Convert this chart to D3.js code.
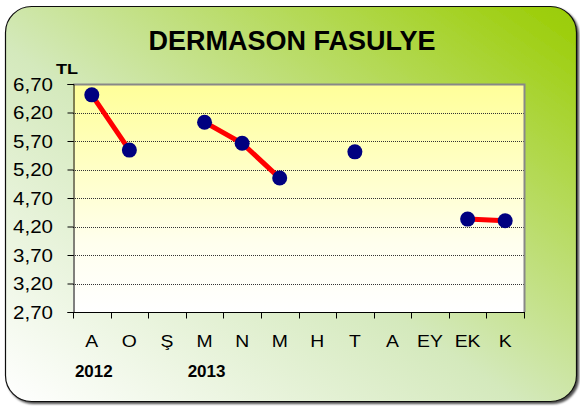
<!DOCTYPE html>
<html lang="tr">
<head>
<meta charset="utf-8">
<script src="https://d3js.org/d3.v7.min.js"></script>
<style>
  body { margin: 0; background: #fff; }
  text { font-family: Arial, "Liberation Sans", sans-serif; }
</style>
</head>
<body>
<script>
// data
var months = ["A", "O", "Ş", "M", "N", "M", "H", "T", "A", "EY", "EK", "K"];
var prices = [6.51, 5.54, null, 6.03, 5.66, 5.05, null, 5.51, null, null, 4.33, 4.30];
var yTicks = [2.70, 3.20, 3.70, 4.20, 4.70, 5.20, 5.70, 6.20, 6.70];
var years = [{ label: "2012", idx: 0 }, { label: "2013", idx: 3 }];

var w = 580, h = 408;
var pLeft = 73, pRight = 524, pTop = 84, pBottom = 312;
var stretch = 1.14; // labels in the original are a bit wide

var svg = d3.select("body").append("svg")
  .attr("width", w)
  .attr("height", h);

var defs = svg.append("defs");

// outer background gradient
var bg = defs.append("linearGradient").attr("id", "bg")
  .attr("x1", "0%").attr("y1", "100%").attr("x2", "100%").attr("y2", "0%");
bg.append("stop").attr("offset", "0%").attr("stop-color", "#ffffff");
bg.append("stop").attr("offset", "45%").attr("stop-color", "#d4e9bc");
bg.append("stop").attr("offset", "100%").attr("stop-color", "#99cc00");

// plot area gradient
var pg = defs.append("linearGradient").attr("id", "pg")
  .attr("x1", "0%").attr("y1", "0%").attr("x2", "0%").attr("y2", "100%");
pg.append("stop").attr("offset", "0%").attr("stop-color", "#ffff99");
pg.append("stop").attr("offset", "70%").attr("stop-color", "#ffffee");
pg.append("stop").attr("offset", "100%").attr("stop-color", "#ffffff");

var shadow = defs.append("filter").attr("id", "shadow")
  .attr("x", "-5%").attr("y", "-5%").attr("width", "110%").attr("height", "110%");
shadow.append("feDropShadow").attr("dx", 2).attr("dy", 2)
  .attr("stdDeviation", 1).attr("flood-color", "#000").attr("flood-opacity", 0.7);

// outer frame
svg.append("rect")
  .attr("x", 5.5).attr("y", 6.5)
  .attr("width", 571).attr("height", 395)
  .attr("rx", 26).attr("ry", 26)
  .attr("fill", "url(#bg)")
  .attr("stroke", "#111")
  .attr("stroke-width", 1.2)
  .attr("filter", "url(#shadow)");

// scales
var x = d3.scaleBand().domain(d3.range(months.length)).range([pLeft, pRight]);
var y = d3.scaleLinear().domain([2.70, 6.70]).range([pBottom, pTop]);

// plot area
svg.append("rect")
  .attr("x", pLeft).attr("y", pTop)
  .attr("width", pRight - pLeft).attr("height", pBottom - pTop)
  .attr("fill", "url(#pg)");

// gridlines
svg.append("g")
  .selectAll("line")
  .data(yTicks.slice(1, -1))
  .enter().append("line")
  .attr("x1", pLeft).attr("x2", pRight)
  .attr("y1", function(d) { return Math.round(y(d)) + 0.5; })
  .attr("y2", function(d) { return Math.round(y(d)) + 0.5; })
  .attr("stroke", "#333")
  .attr("stroke-width", 1)
  .attr("stroke-dasharray", "1,1");

// plot border (top/right grey)
svg.append("path")
  .attr("d", "M" + pLeft + "," + (pTop + 0.5) + "H" + (pRight + 0.5) + "V" + pBottom)
  .attr("fill", "none")
  .attr("stroke", "#888")
  .attr("stroke-width", 2);

// y axis
var yAxis = d3.axisLeft(y)
  .tickValues(yTicks)
  .tickSize(6)
  .tickPadding(14)
  .tickFormat(function(d) { return d3.format(".2f")(d).replace(".", ","); });

var gy = svg.append("g")
  .attr("transform", "translate(" + (pLeft + 0.5) + ",0)")
  .call(yAxis);
gy.select(".domain").attr("stroke", "#000").attr("stroke-width", 1);
gy.selectAll(".tick line").attr("stroke", "#000");
gy.selectAll(".tick text").attr("font-size", 18).attr("fill", "#000")
  .attr("font-family", "Arial, 'Liberation Sans', sans-serif")
  .attr("x", -20.5 / stretch)
  .attr("dy", "0.36em")
  .attr("transform", "scale(" + stretch + ",1)");

// x axis with ticks at category boundaries
var xLin = d3.scaleLinear().domain([0, months.length]).range([pLeft, pRight]);
var gx = svg.append("g")
  .attr("transform", "translate(0," + (pBottom + 0.5) + ")");
gx.append("line")
  .attr("x1", pLeft).attr("x2", pRight + 1)
  .attr("stroke", "#000");
gx.selectAll(".xt")
  .data(d3.range(months.length + 1))
  .enter().append("line")
  .attr("class", "xt")
  .attr("x1", function(d) { return Math.round(xLin(d)) + 0.5; })
  .attr("x2", function(d) { return Math.round(xLin(d)) + 0.5; })
  .attr("y1", 0).attr("y2", 6)
  .attr("stroke", "#000");

svg.append("g")
  .selectAll("text")
  .data(months)
  .enter().append("text")
  .attr("transform", function(d, i) {
    return "translate(" + (x(i) + x.bandwidth() / 2) + ",347) scale(" + stretch + ",1)";
  })
  .attr("text-anchor", "middle")
  .attr("font-size", 17)
  .text(function(d) { return d; });

// year labels
svg.append("g")
  .selectAll("text")
  .data(years)
  .enter().append("text")
  .attr("x", function(d) { return x(d.idx) + x.bandwidth() / 2 + 2; })
  .attr("y", 377)
  .attr("text-anchor", "middle")
  .attr("font-size", 17)
  .attr("font-weight", "bold")
  .text(function(d) { return d.label; });

// title
svg.append("text")
  .attr("x", 292).attr("y", 50)
  .attr("text-anchor", "middle")
  .attr("font-size", 27)
  .attr("font-weight", "bold")
  .text("DERMASON FASULYE");

svg.append("text")
  .attr("x", 56).attr("y", 74)
  .attr("font-size", 14)
  .attr("font-weight", "bold")
  .attr("textLength", 22)
  .attr("lengthAdjust", "spacingAndGlyphs")
  .text("TL");

// line
var line = d3.line()
  .defined(function(d) { return d != null; })
  .x(function(d, i) { return x(i) + x.bandwidth() / 2; })
  .y(function(d) { return y(d); });

svg.append("path")
  .datum(prices)
  .attr("fill", "none")
  .attr("stroke", "#ff0000")
  .attr("stroke-width", 5)
  .attr("d", line);

svg.append("g")
  .selectAll("circle")
  .data(prices.map(function(v, i) { return { v: v, i: i }; }).filter(function(d) { return d.v != null; }))
  .enter().append("circle")
  .attr("cx", function(d) { return x(d.i) + x.bandwidth() / 2; })
  .attr("cy", function(d) { return y(d.v); })
  .attr("r", 7.5)
  .attr("fill", "#000080");
</script>
</body>
</html>
